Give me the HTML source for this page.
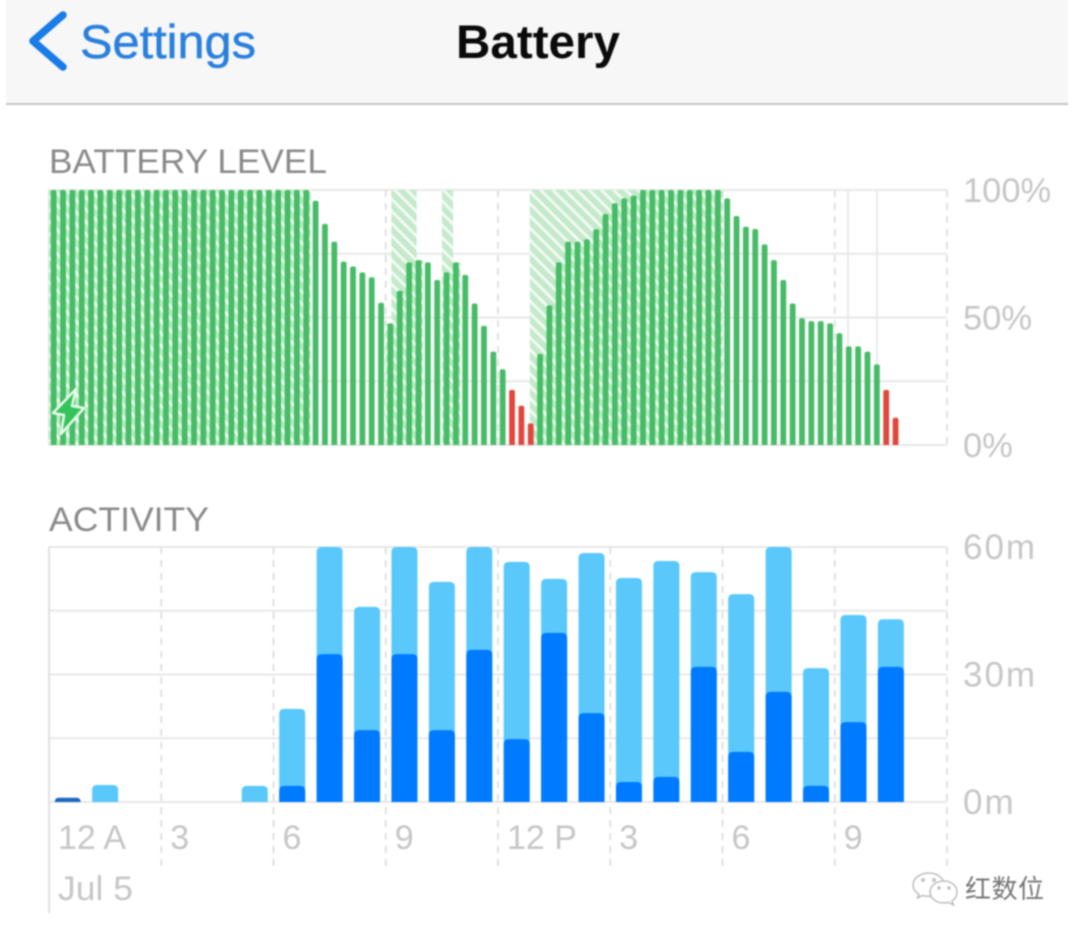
<!DOCTYPE html>
<html lang="en">
<head>
<meta charset="utf-8">
<title>Battery</title>
<style>
html,body{margin:0;padding:0;background:#fff;width:1080px;height:937px;overflow:hidden}
svg{display:block;filter:blur(0.8px)}
text{font-family:"Liberation Sans","Noto Sans CJK SC",sans-serif}
.axis{fill:#c6c6c6;font-size:34px}
.axis-min{fill:#c6c6c6;font-size:35px;letter-spacing:2px}
.axis-pct{fill:#c6c6c6;font-size:34.5px}
.title{fill:#8a8a8a;font-size:34px}
</style>
</head>
<body>
<svg id="root" xmlns="http://www.w3.org/2000/svg" width="1080" height="937" viewBox="0 0 1080 937">
  <defs>
    <pattern id="hatch" width="8.6" height="8.6" patternUnits="userSpaceOnUse" patternTransform="rotate(-45)">
      <rect width="8.6" height="8.6" fill="#f2faf3"/>
      <rect width="5.6" height="8.6" fill="#c4e9cb"/>
    </pattern>
    <pattern id="hatchStrong" width="8.6" height="8.6" patternUnits="userSpaceOnUse" patternTransform="rotate(-45)">
      <rect width="8.6" height="8.6" fill="#f0fbf1"/>
      <rect width="5.6" height="8.6" fill="#b6edc0"/>
    </pattern>
  </defs>
  <rect x="6" y="0" width="1062" height="103" fill="#f7f7f7"/>
  <rect x="6" y="103" width="1062" height="2" fill="#c4c4c4"/>
  <g>
    <path d="M63 15 L33 41 L63 67" fill="none" stroke="#1a7ce8" stroke-width="7.5" stroke-linecap="round" stroke-linejoin="round"/>
    <text x="80" y="58" font-size="47" fill="#2a80dc" stroke="#2a80dc" stroke-width="0.5" textLength="176" lengthAdjust="spacingAndGlyphs">Settings</text>
  </g>
  <text x="456" y="58" font-size="47" font-weight="700" fill="#0a0a0a" textLength="164" lengthAdjust="spacingAndGlyphs">Battery</text>

  <text class="title" x="49" y="173" textLength="278" lengthAdjust="spacingAndGlyphs">BATTERY LEVEL</text>
  <g id="batteryGrid"></g>
  <g id="batteryHatch"></g>
  <g id="batteryBars"></g>
  <g id="batteryTicks"></g>
  <path d="M76 389 L53 413 L64 415 L61 434 L84 408 L72 406 Z" fill="#35c45c" stroke="#e6fae9" stroke-width="2.5" stroke-linejoin="round"/>

  <text class="title" x="49" y="531" textLength="160" lengthAdjust="spacingAndGlyphs">ACTIVITY</text>
  <g id="activityGrid"></g>
  <g id="activityBars"></g>
  <g id="activityTicks"></g>
  <g id="timeTicks"></g>
  <text class="axis" x="58" y="900" textLength="75" lengthAdjust="spacingAndGlyphs">Jul 5</text>

  <g>
    <g fill="#fff" stroke="#b4b4b4" stroke-width="1.3">
      <path d="M929 873c-9 0-16 5.500-16 12 0 4 2.500 7 6 9.500l-1.500 3.500 5-2.500c2 .5 4 .8 6.500 .8 9 0 15-5.500 15-11.300 0-6.500-6-12-15-12z"/>
      <path d="M944 881c-8 0-14 5-14 11s6 11 14 11c1.500 0 3-.2 4.500-.6l5 2.600-1.500-4c3-2 5-5.300 5-9 0-6-5.500-11-13-11z"/>
      <circle cx="923" cy="880" r="1.200"/><circle cx="934" cy="880" r="1.200"/>
      <circle cx="939" cy="888" r="1"/><circle cx="949" cy="888" r="1"/>
    </g>
    <text x="965" y="898" font-size="26" fill="#777" style="font-family:'Noto Sans CJK SC',sans-serif" textLength="79">红数位</text>
  </g>
</svg>
<script>
// Battery chart data: one value per 15-minute slot, in percent
const batteryLevels = [
  100,100,100,100,100,100,100,100,100,100,100,100,100,100,100,100,100,100,100,100,
  100,100,100,100,100,100,100,100,95.8,86.7,79.7,71.9,70,67.7,65.8,55.8,47.7,60.5,71.6,72.5,
  71.6,64.7,67.7,71.6,66.7,55.5,46.7,36.6,29.7,21.6,15.4,8.5,35.7,54.8,71.6,79.7,79.7,80.7,84.6,90.6,
  94.8,96.7,97.8,100,100,100,100,100,100,100,100,100,96.7,89.8,85.6,84.7,78.7,72.5,64.7,55.5,
  49.7,48.6,48.6,47.7,43.8,38.7,38.7,36.6,31.6,21.6,10.7
];
const chargingStartSlots = [0, 36.6, 42, 51.4];
const chargingEndSlots = [28, 39.3, 43.2, 72];
const batteryTickLabels = ['100%', '50%', '0%'];
const batteryTickValues = [100, 50, 0];
const batteryGridValues = [100, 75, 50, 25, 0];
const lowBatteryThreshold = 22;

// Activity chart data: one value per hour, in minutes
const screenOnMinutes = [1,0,0,0,0,0,3.8,34.8,16.9,34.8,16.9,35.8,14.8,39.8,20.9,4.7,5.9,31.8,11.8,25.9,3.8,18.8,31.8];
const backgroundMinutes = [0,4,0,0,0,3.8,18.1,25.2,29,25.2,34.9,24.2,41.7,12.7,37.7,48,50.8,22.3,37.1,34.1,27.7,25.2,11.2];
const activityTickLabels = ['60m', '30m', '0m'];
const activityTickValues = [60, 30, 0];
const activityGridValues = [60, 45, 30, 15, 0];
const timeTickLabels = ['12 A', '3', '6', '9', '12 P', '3', '6', '9'];

const SVGNS = 'http://www.w3.org/2000/svg';
const PLOT_LEFT = 49, PLOT_RIGHT = 947;
const SLOTS = 96, HOURS = 24;
const xSlot = s => PLOT_LEFT + s * (PLOT_RIGHT - PLOT_LEFT) / SLOTS;
const xHour = h => PLOT_LEFT + h * (PLOT_RIGHT - PLOT_LEFT) / HOURS;
const yBattery = v => 445 - v * 255 / 100;
const yActivity = v => 802 - v * 255 / 60;

function make(tag, parent, attrs, text) {
  const el = document.createElementNS(SVGNS, tag);
  for (const k in attrs) el.setAttribute(k, attrs[k]);
  if (text !== undefined) el.textContent = text;
  parent.appendChild(el);
  return el;
}
function topRounded(x, w, top, bottom, r) {
  const rr = Math.min(r, (bottom - top), w / 2);
  return 'M' + x + ' ' + bottom + 'V' + (top + rr) + 'Q' + x + ' ' + top + ' ' + (x + rr) + ' ' + top +
    'H' + (x + w - rr) + 'Q' + (x + w) + ' ' + top + ' ' + (x + w) + ' ' + (top + rr) + 'V' + bottom + 'Z';
}
function drawGrid(group, values, yFn, top, bottom, extraBottom) {
  values.forEach(function (v) {
    const line = make('line', group, {x1: PLOT_LEFT, x2: PLOT_RIGHT, y1: yFn(v), y2: yFn(v), stroke: '#e8e8e8', 'stroke-width': 2});
    
    
  });
  for (let h = 0; h <= HOURS; h += 3) {
    const line = make('line', group, {x1: xHour(h), x2: xHour(h), y1: top, y2: h === 0 ? bottom + extraBottom : bottom + (extraBottom ? 64 : 0), stroke: '#dedede', 'stroke-width': 1.8, 'stroke-dasharray': h === 0 ? 'none' : '7 6'});
    
    
  }
}
const isCharging = s => chargingStartSlots.some(function (start, i) { return s >= start - 0.6 && s < chargingEndSlots[i]; });

// Battery chart
const batteryGrid = document.getElementById('batteryGrid');
drawGrid(batteryGrid, batteryGridValues, yBattery, 190, 445, 0);
[848, 877].forEach(function (x) {
  const line = make('line', batteryGrid, {x1: x, x2: x, y1: 190, y2: 445, stroke: '#e2eaec', 'stroke-width': 1.8});
  
  
});
const batteryHatch = document.getElementById('batteryHatch');
chargingStartSlots.forEach(function (s, i) {
  const r = make('rect', batteryHatch, {x: xSlot(s), y: yBattery(100), width: xSlot(chargingEndSlots[i]) - xSlot(s), height: yBattery(0) - yBattery(100), fill: 'url(#hatch)'});
  
  
});
batteryLevels.forEach(function (v, i) {
  if (!isCharging(i) || v <= lowBatteryThreshold) return;
  const r = make('rect', batteryHatch, {x: xSlot(i), y: yBattery(v), width: xSlot(i + 1) - xSlot(i), height: yBattery(0) - yBattery(v), fill: 'url(#hatchStrong)'});
  
  
});
const batteryBars = document.getElementById('batteryBars');
batteryLevels.forEach(function (v, i) {
  const w = 5.8;
  const x = xSlot(i + 0.5) - w / 2;
  const p = make('path', batteryBars, {d: topRounded(x, w, yBattery(v), yBattery(0), 2), fill: v <= lowBatteryThreshold ? '#e0483e' : '#47bb67'});
  
  
});
const batteryTicks = document.getElementById('batteryTicks');
batteryTickLabels.forEach(function (label, i) {
  const t = make('text', batteryTicks, {x: 963, y: yBattery(batteryTickValues[i]) + 12, class: 'axis-pct'}, label);
  
  
});

// Activity chart
drawGrid(document.getElementById('activityGrid'), activityGridValues, yActivity, 547, 802, 111);
const activityBars = document.getElementById('activityBars');
backgroundMinutes.forEach(function (bg, i) {
  const w = 26;
  const x = xHour(i + 0.5) - w / 2;
  const on = screenOnMinutes[i];
  if (bg > 0) {
    const light = make('path', activityBars, {d: topRounded(x, w, yActivity(on + bg), yActivity(0), 5), fill: '#5ac8fa'});
    
    
  }
  if (on > 0) {
    const dark = make('path', activityBars, {d: topRounded(x, w, yActivity(on), yActivity(0), 5), fill: on < 2 ? '#1d66bd' : '#007aff'});
    
    
  }
});
const activityTicks = document.getElementById('activityTicks');
activityTickLabels.forEach(function (label, i) {
  const t = make('text', activityTicks, {x: 963, y: yActivity(activityTickValues[i]) + 12, class: 'axis-min'}, label);
  
  
});
const timeTicks = document.getElementById('timeTicks');
timeTickLabels.forEach(function (label, i) {
  const t = make('text', timeTicks, {x: xHour(i * 3) + 9, y: 849, class: 'axis'}, label);
  
  
});
</script>
</body>
</html>
